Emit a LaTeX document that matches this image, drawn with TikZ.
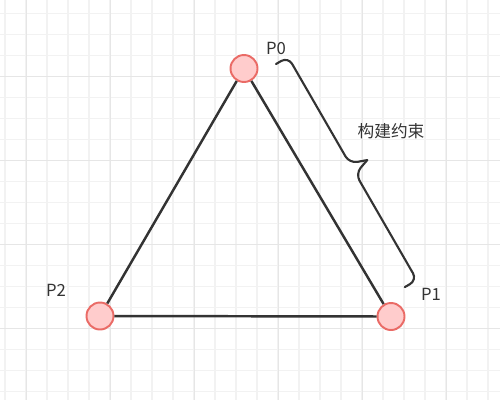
\documentclass[tikz,border=0pt]{standalone}
\usepackage{fontspec}
\setmainfont{Noto Sans CJK SC}
\definecolor{Edge}{HTML}{333333}
\definecolor{PointFill}{HTML}{FFCCCC}
\definecolor{PointDraw}{HTML}{EA6B66}
\definecolor{GridMinor}{HTML}{F2F2F2}
\definecolor{GridMajor}{HTML}{E6E6E6}

\begin{document}
\begin{tikzpicture}[
    x=0.02cm, y=-0.02cm,
    point/.style={draw=PointDraw, fill=PointFill, circle, line width=1.1pt, minimum size=0.54cm, inner sep=0pt},
    pointLabel/.style={text=Edge, font=\fontsize{9.5}{11}\selectfont},
    edge/.style={draw=Edge, line width=1.4pt},
    braceLine/.style={draw=Edge, line width=1.2pt, line cap=round, rounded corners=4.5pt},
  ]
  \useasboundingbox (0,0) rectangle (500,400);
  \fill[white] (0,0) rectangle (500,400);
  % grid
  \foreach \x in {5,26,...,500} \draw[GridMinor, line width=0.6pt] (\x,0) -- (\x,400);
  \foreach \y in {13.3,34.3,...,400} \draw[GridMinor, line width=0.6pt] (0,\y) -- (500,\y);
  \foreach \x in {26.3,110.3,...,500} \draw[GridMajor, line width=0.6pt] (\x,0) -- (\x,400);
  \foreach \y in {76.3,160.3,...,400} \draw[GridMajor, line width=0.6pt] (0,\y) -- (500,\y);
  % points
  \node[point] (p0) at (244,68.5) {};
  \node[point] (p1) at (391,316.5) {};
  \node[point] (p2) at (100,316) {};
  \node[pointLabel] (p0L) at (276,48) {P0};
  \node[pointLabel] (p1L) at (431,294) {P1};
  \node[pointLabel] (p2L) at (56,290) {P2};
  % lines
  \draw[edge] (p0) -- (p1) -- (p2) -- (p0);
  % brace
  \begin{scope}[shift={(276,64)}, rotate=-60]
    \coordinate (braceTop) at (0,0);
    \coordinate (braceA) at (0,-14);
    \coordinate (braceB) at (122.8,-14);
    \coordinate (braceTip) at (128.8,-31);
    \coordinate (braceC) at (134.8,-14);
    \coordinate (braceD) at (257.6,-14);
    \coordinate (braceBottom) at (257.6,0);
  \end{scope}
  \draw[braceLine] (braceTop) -- (braceA) -- (braceB) -- (braceTip);
  \draw[braceLine] (braceTip) -- (braceC) -- (braceD) -- (braceBottom);
  \node[pointLabel] (constraintL) at (391,131) {构建约束};
\end{tikzpicture}
\end{document}
